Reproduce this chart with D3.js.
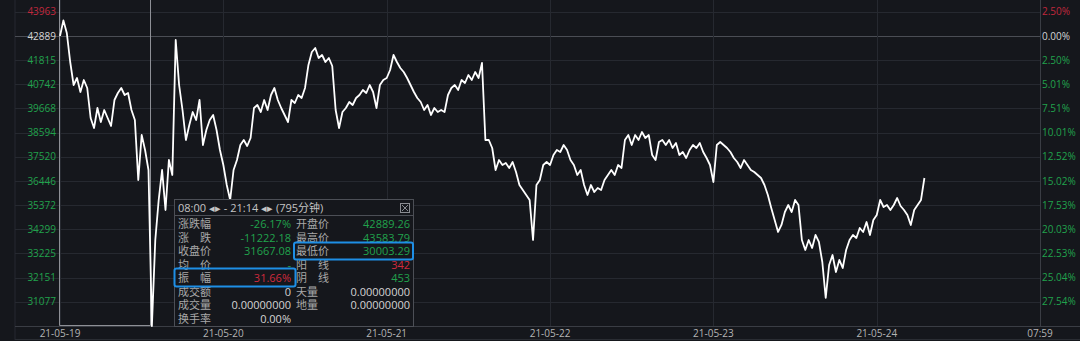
<!DOCTYPE html>
<html>
<head>
<meta charset="utf-8">
<script src="https://cdn.jsdelivr.net/npm/d3@7"></script>
<style>
  body { margin: 0; background: #15171c; overflow: hidden; }
  svg text { font-family: "Open Sans", "Noto Sans CJK SC", sans-serif; }
</style>
</head>
<body>
<div id="chart"></div>
<script>
// 30 minute samples, each day starts at 08:00
const day19 = [42889, 43584, 43022, 41734, 40712, 41023, 40401, 40934, 40579, 39246, 38801, 39690, 39068, 39601, 39246, 38890, 40045, 40357, 40579, 40268, 40357, 39601, 39157, 36491, 38490, 37824, 36935, 30003, 33825, 35603, 36935, 35158, 37380, 36713, 42711, 40712, 39601, 38268, 38935, 39512, 39157, 40045, 38046, 38713, 39157, 39379, 38713, 37824];
const day20 = [37158, 36269, 35603, 36935, 37380, 38046, 38268, 38002, 38357, 39690, 39823, 39512, 40045, 39601, 40268, 40579, 40045, 39690, 39379, 39068, 40045, 39912, 40268, 40134, 40579, 41601, 42178, 42356, 41912, 42045, 41734, 41912, 41556, 39601, 38801, 39512, 39690, 39957, 39823, 40134, 40268, 40490, 40357, 40712, 40401, 39690, 40712, 40934];
const day21 = [41023, 41378, 42045, 41734, 41467, 41289, 41023, 40712, 40401, 40134, 39957, 39601, 39823, 39379, 39690, 39512, 39601, 39512, 40268, 40579, 40712, 40490, 40934, 40801, 41156, 40934, 41289, 41023, 41690, 38268, 38268, 37913, 36935, 37380, 37158, 37247, 37025, 37291, 36846, 36269, 36047, 35825, 35603, 33825, 36269, 36491, 37158, 37291];
const day22 = [37158, 37602, 37824, 37735, 38046, 37824, 37380, 37158, 36713, 36935, 36269, 35825, 36269, 35958, 36136, 36047, 36491, 36713, 36935, 36713, 37158, 37025, 38268, 38490, 38046, 38490, 38268, 38624, 38357, 38490, 37602, 37380, 38179, 38268, 38046, 38268, 37913, 38135, 37602, 37735, 37469, 37824, 38046, 37913, 38135, 37735, 37469, 37158];
const day23 = [36402, 38046, 38179, 38046, 37913, 37735, 37469, 37291, 37025, 37380, 37158, 36935, 36846, 36713, 36580, 36269, 35825, 35247, 34714, 34181, 34492, 35069, 35380, 35069, 35603, 35380, 33825, 33381, 33825, 33470, 34048, 33737, 32848, 31249, 32715, 33159, 32404, 32937, 32582, 33381, 33825, 34048, 33914, 34359, 34181, 34625, 34048, 34714];
const day24 = [34936, 35603, 35291, 35380, 35158, 35380, 35691, 35336, 35158, 34936, 34492, 35158, 35380, 35603, 36580];

const openPrice = 42889.26;
const lowPrice = 30003.29;
const leftTicks = [43963, 42889, 41815, 40742, 39668, 38594, 37520, 36446, 35372, 34299, 33225, 32151, 31077];
const rightLabels = ["2.50%", "0.00%", "2.50%", "5.01%", "7.51%", "10.01%", "12.52%", "15.02%", "17.53%", "20.03%", "22.53%", "25.04%", "27.54%"];
const dayLabels = ["21-05-19", "21-05-20", "21-05-21", "21-05-22", "21-05-23", "21-05-24", "07:59"];

const tipHeader = "08:00 \u25C2\u25B8 - 21:14 \u25C2\u25B8  (795分钟)";
const tipLeftLabels = ["涨跌幅", "涨　跌", "收盘价", "均　价", "振　幅", "成交额", "成交量", "换手率"];
const tipLeftValues = ["-26.17%", "-11222.18", "31667.08", "-", "31.66%", "0", "0.00000000", "0.00%"];
const tipRightLabels = ["开盘价", "最高价", "最低价", "阳　线", "阴　线", "天量", "地量"];
const tipRightValues = ["42889.26", "43583.79", "30003.29", "342", "453", "0.00000000", "0.00000000"];

const RED = "#c0283c", GREEN = "#21a24c", LIGHT = "#d4d4d4", GRID = "#262930";

const width = 1080, height = 341;
const svg = d3.select("#chart").append("svg")
    .attr("width", width).attr("height", height)
    .style("background", "#15171c");

const start = new Date(2021, 4, 19, 8, 0);
const end = new Date(2021, 4, 25, 7, 59);
const x = d3.scaleTime().domain([start, end]).range([60, 1040]);
const y = d3.scaleLinear().domain([lowPrice, openPrice]).range([326, 36]);

const prices = [].concat(day19, day20, day21, day22, day23, day24);
const points = prices.map((p, i) => ({ t: d3.timeMinute.offset(start, i * 30), p: p }));

// frame
svg.append("line").attr("x1", 15).attr("x2", 15).attr("y1", 0).attr("y2", 340).attr("stroke", GRID);
svg.append("line").attr("x1", 15).attr("x2", width).attr("y1", 326.5).attr("y2", 326.5).attr("stroke", "#3a3d44");
svg.append("line").attr("x1", 15).attr("x2", width).attr("y1", 339.5).attr("y2", 339.5).attr("stroke", "#2a2d33");

// horizontal grid
svg.append("g").selectAll("line")
    .data(leftTicks)
    .join("line")
    .attr("x1", 15).attr("x2", 1040)
    .attr("y1", d => Math.round(y(d)) + 0.5).attr("y2", d => Math.round(y(d)) + 0.5)
    .attr("stroke", (d, i) => i === 1 ? "#4a4d54" : GRID);

// vertical grid (one per day)
const dayTicks = d3.range(7).map(i => d3.timeDay.offset(start, i));
dayTicks[6] = end;
svg.append("g").selectAll("line")
    .data(dayTicks)
    .join("line")
    .attr("x1", d => Math.round(x(d)) + 0.5).attr("x2", d => Math.round(x(d)) + 0.5)
    .attr("y1", 0).attr("y2", 326)
    .attr("stroke", (d, i) => i === 6 ? "#3a3d44" : GRID);

// left axis labels
svg.append("g").selectAll("text")
    .data(leftTicks)
    .join("text")
    .attr("x", 56).attr("y", d => y(d) + 3.5)
    .attr("text-anchor", "end")
    .attr("font-size", 10)
    .attr("fill", (d, i) => i === 0 ? RED : i === 1 ? LIGHT : GREEN)
    .text(d => d);

// right axis labels
svg.append("g").selectAll("text")
    .data(rightLabels)
    .join("text")
    .attr("x", 1042).attr("y", (d, i) => y(leftTicks[i]) + 3.5)
    .attr("font-size", 10)
    .attr("fill", (d, i) => i === 0 ? RED : i === 1 ? LIGHT : GREEN)
    .text(d => d);

// bottom date labels
svg.append("g").selectAll("text")
    .data(dayTicks)
    .join("text")
    .attr("x", d => x(d)).attr("y", 337)
    .attr("text-anchor", "middle")
    .attr("font-size", 10)
    .attr("fill", "#b4b4b4")
    .text((d, i) => dayLabels[i]);

// selected range 08:00 - 21:14
const selEnd = new Date(2021, 4, 19, 21, 14);
const sx0 = Math.round(x(start)) - 0.5, sx1 = Math.round(x(selEnd)) + 0.5;
svg.append("path")
    .attr("d", `M${sx0},0V325.5H${sx1}V0`)
    .attr("fill", "none")
    .attr("stroke", "#8e9096");

// price line
const line = d3.line().x(d => x(d.t)).y(d => y(d.p));
svg.append("path")
    .datum(points)
    .attr("d", line)
    .attr("fill", "none")
    .attr("stroke", "#ffffff")
    .attr("stroke-width", 1.8)
    .attr("stroke-linejoin", "round");

// tooltip
const tip = svg.append("g").attr("transform", "translate(174,199)");
tip.append("rect")
    .attr("x", 0.5).attr("y", 0.5).attr("width", 239).attr("height", 127)
    .attr("fill", "#15171c").attr("stroke", "#4c4f56");
tip.append("line").attr("x1", 0.5).attr("x2", 239.5).attr("y1", 16.5).attr("y2", 16.5).attr("stroke", "#4c4f56");
tip.append("text").attr("x", 4).attr("y", 13).attr("font-size", 11).attr("fill", "#c4c4c4").text(tipHeader);
// close icon
tip.append("rect").attr("x", 226.5).attr("y", 4.5).attr("width", 9).attr("height", 9)
    .attr("fill", "none").attr("stroke", "#8a8c92");
tip.append("path").attr("d", "M228,6L234,12M234,6L228,12").attr("stroke", "#8a8c92");

const rowY = i => 29 + i * 13.5;
const leftColor = ["#21a24c", "#21a24c", "#21a24c", "#21a24c", "#d02a3e", LIGHT, LIGHT, LIGHT];
const rightColor = ["#21a24c", "#21a24c", "#21a24c", "#d02a3e", "#21a24c", LIGHT, LIGHT];

tip.append("g").selectAll("text").data(tipLeftLabels).join("text")
    .attr("x", 4).attr("y", (d, i) => rowY(i))
    .attr("font-size", 11).attr("fill", "#a8a8a8").text(d => d);
tip.append("g").selectAll("text").data(tipLeftValues).join("text")
    .attr("x", 117).attr("y", (d, i) => rowY(i))
    .attr("text-anchor", "end")
    .attr("font-size", 11).attr("fill", (d, i) => leftColor[i]).text(d => d);
tip.append("g").selectAll("text").data(tipRightLabels).join("text")
    .attr("x", 122).attr("y", (d, i) => rowY(i))
    .attr("font-size", 11).attr("fill", "#a8a8a8").text(d => d);
tip.append("g").selectAll("text").data(tipRightValues).join("text")
    .attr("x", 236).attr("y", (d, i) => rowY(i))
    .attr("text-anchor", "end")
    .attr("font-size", 11).attr("fill", (d, i) => rightColor[i]).text(d => d);

// highlight boxes
tip.append("rect").attr("x", 0.5).attr("y", 69.5).attr("width", 121).attr("height", 18)
    .attr("rx", 2).attr("fill", "none").attr("stroke", "#1e8fe6").attr("stroke-width", 2);
tip.append("rect").attr("x", 120).attr("y", 43.5).attr("width", 119).attr("height", 17)
    .attr("rx", 2).attr("fill", "none").attr("stroke", "#1e8fe6").attr("stroke-width", 2);
</script>
</body>
</html>
